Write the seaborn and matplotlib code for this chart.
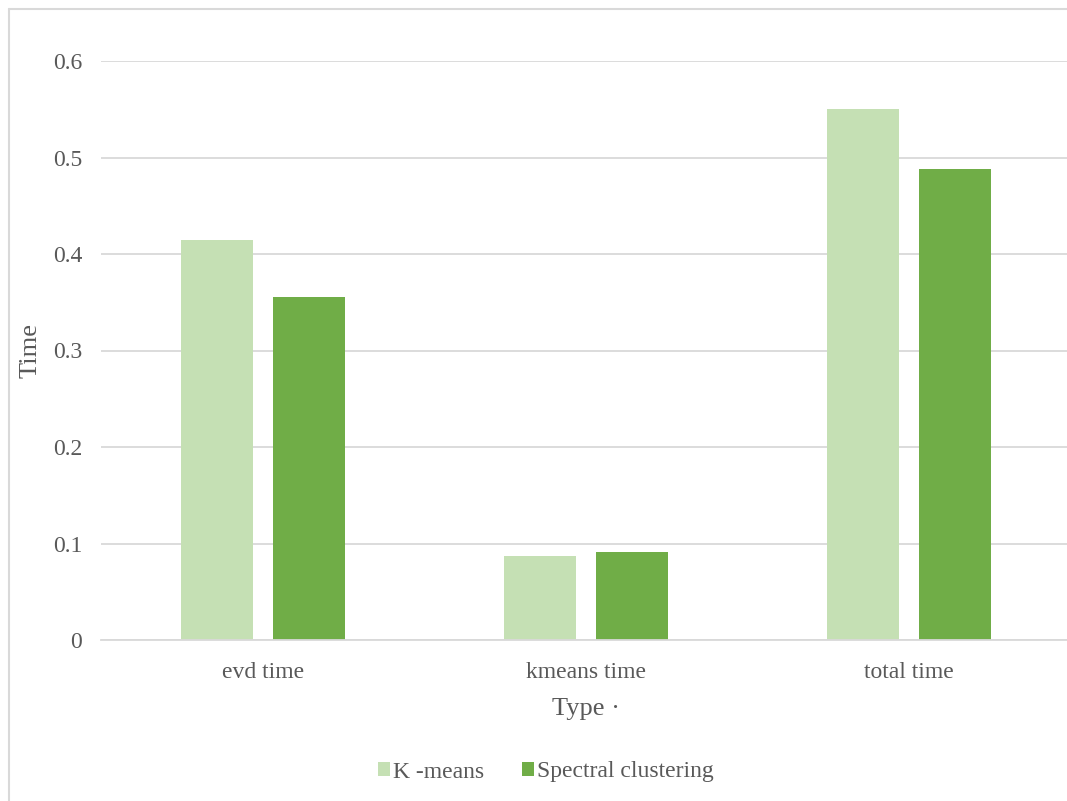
import matplotlib
matplotlib.use("Agg")
import matplotlib.pyplot as plt
import seaborn as sns
import pandas as pd
from matplotlib.lines import Line2D
from matplotlib.patches import Patch

categories = ["evd time", "kmeans time", "total time"]
series_names = ["K -means", "Spectral clustering"]
kmeans_vals = [0.415, 0.087, 0.550]
spectral_vals = [0.355, 0.091, 0.488]
yticks = [0, 0.1, 0.2, 0.3, 0.4, 0.5, 0.6]
ytick_labels = ["0", "0.1", "0.2", "0.3", "0.4", "0.5", "0.6"]
colors = ["#c5e0b4", "#70ad47"]

df = pd.DataFrame({
    "Type": categories * 2,
    "Time": kmeans_vals + spectral_vals,
    "Series": [series_names[0]] * 3 + [series_names[1]] * 3,
})

sns.set_theme(style="white")
plt.rcParams["font.family"] = ["Liberation Serif", "DejaVu Serif"]

fig = plt.figure(figsize=(10.67, 8.01), dpi=100)
W, H = 1067, 801
ax = fig.add_axes([101 / W, 1 - 640 / H, 970 / W, (640 - 61) / H])

sns.barplot(data=df, x="Type", y="Time", hue="Series", order=categories,
            hue_order=series_names, palette=colors, width=0.569, gap=0.217,
            saturation=1, ax=ax, legend=False, linewidth=0)

ax.set_ylim(0, 0.6)
ax.set_xlim(-0.5, 2.5)
ax.set_yticks(yticks)
ax.set_yticklabels(ytick_labels)
ax.yaxis.grid(True, color="#d9d9d9", linewidth=1.3)
ax.set_axisbelow(True)
for s in ["top", "right", "left"]:
    ax.spines[s].set_visible(False)
ax.spines["bottom"].set_color("#d9d9d9")
ax.spines["bottom"].set_linewidth(1.3)
ax.tick_params(axis="both", length=0, labelsize=17, colors="#595959")
ax.tick_params(axis="y", pad=13.5)
ax.tick_params(axis="x", pad=15.5)
ax.set_xlabel("Type ·", fontsize=19, color="#595959", labelpad=11)
ax.set_ylabel("Time", fontsize=19, color="#595959")
ax.yaxis.set_label_coords((31 - 101) / 970, 0.5)
ax.yaxis.label.set_verticalalignment("center")
ax.yaxis.label.set_horizontalalignment("center")

handles = [Patch(facecolor=c, edgecolor="none") for c in colors]
fig.legend(handles, series_names, loc="center", bbox_to_anchor=(546 / W, 1 - 772 / H),
           ncol=2, frameon=False, fontsize=17, labelcolor="#595959",
           handlelength=0.5, handleheight=0.5, handletextpad=0.15, columnspacing=1.6)

fig.add_artist(Line2D([8.5 / W, 8.5 / W], [0, 1 - 8.5 / H], transform=fig.transFigure,
                      color="#d9d9d9", linewidth=1.5))
fig.add_artist(Line2D([8.5 / W, 1], [1 - 8.5 / H, 1 - 8.5 / H], transform=fig.transFigure,
                      color="#d9d9d9", linewidth=1.5))

fig.savefig("out.png", dpi=100, facecolor="white")
